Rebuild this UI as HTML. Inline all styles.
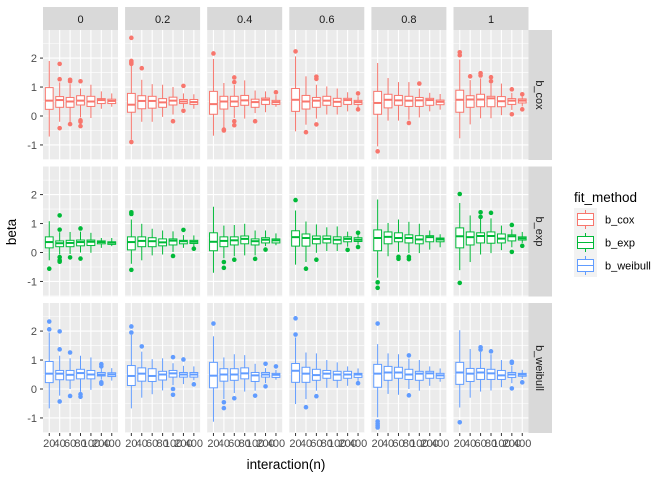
<!DOCTYPE html>
<html><head><meta charset="utf-8"><style>
body{margin:0;background:#fff;}
svg{display:block;font-family:"Liberation Sans",sans-serif;}
</style></head><body>
<svg id="chart" width="672" height="480"></svg>
<script>
const panelLabels = ["0","0.2","0.4","0.6","0.8","1"];
const methods = ["b_cox","b_exp","b_weibull"];
const methodColors = ["#F8766D","#00BA38","#619CFF"];
const categories = ["20","40","60","80","100","200","400"];
const yTicks = [-1,0,1,2];
// stats per panel: [lo,q1,med,q3,hi] for each of 7 categories
const coxStats = [
 [[-0.71,0.23,0.53,0.98,1.9],[-0.2,0.3,0.55,0.67,1.16],[-0.2,0.3,0.5,0.64,1.1],[-0.05,0.38,0.53,0.7,0.95],[-0.07,0.33,0.5,0.68,1.08],[0.25,0.43,0.55,0.6,0.85],[0.32,0.43,0.52,0.58,0.78]],
 [[-0.82,0.13,0.39,0.78,1.78],[-0.2,0.25,0.52,0.7,1.25],[-0.2,0.27,0.52,0.68,1.1],[-0.03,0.3,0.47,0.6,1.08],[0.05,0.38,0.53,0.65,1.0],[0.28,0.43,0.5,0.57,0.78],[0.25,0.4,0.48,0.57,0.75]],
 [[-0.68,0.06,0.41,0.85,1.97],[-0.41,0.24,0.5,0.68,1.14],[-0.07,0.33,0.5,0.68,1.07],[-0.09,0.37,0.54,0.71,1.23],[0.1,0.3,0.48,0.58,0.88],[0.13,0.4,0.56,0.62,0.85],[0.32,0.4,0.48,0.54,0.72]],
 [[-0.53,0.16,0.56,0.95,2.06],[-0.3,0.24,0.5,0.71,1.37],[-0.09,0.3,0.53,0.64,1.08],[0.05,0.37,0.53,0.68,1.02],[0.05,0.33,0.49,0.61,0.95],[0.16,0.4,0.55,0.61,0.82],[0.3,0.4,0.48,0.54,0.68]],
 [[-1.05,0.06,0.45,0.85,1.83],[-0.16,0.28,0.56,0.75,1.31],[-0.16,0.37,0.54,0.71,1.17],[-0.13,0.33,0.53,0.68,1.17],[-0.05,0.33,0.54,0.64,0.95],[0.16,0.37,0.55,0.61,0.8],[0.22,0.39,0.49,0.55,0.76]],
 [[-0.77,0.13,0.56,0.89,1.95],[-0.29,0.3,0.57,0.7,1.24],[-0.08,0.32,0.57,0.75,1.3],[-0.08,0.32,0.61,0.68,1.12],[0.03,0.32,0.51,0.67,1.12],[0.21,0.4,0.53,0.6,0.8],[0.33,0.45,0.53,0.59,0.67]]
];
const coxOutliers = [
 [[],[1.8,1.27,-0.42],[1.25,1.2,-0.28],[1.2,-0.15,-0.2,-0.35],[],[],[]],
 [[2.7,1.9,1.85,1.8,-0.9],[1.65],[],[],[-0.18],[1.04,0.18],[]],
 [[2.16],[-0.5,-0.47],[1.33,1.17,-0.18,-0.32],[],[-0.18],[],[0.82]],
 [[2.23],[-0.56],[1.36,1.28,-0.29],[],[],[],[0.78,0.23]],
 [[-1.22],[],[],[-0.24],[1.12],[],[]],
 [[2.2,2.1],[1.37],[1.48,1.4],[1.34,1.2],[],[0.92,0.06],[0.75,0.23]]
];
const expStats = [
 [[-0.27,0.16,0.36,0.54,1.08],[-0.07,0.2,0.32,0.4,0.7],[-0.05,0.2,0.33,0.42,0.71],[0.0,0.23,0.36,0.43,0.72],[-0.01,0.24,0.37,0.43,0.68],[0.16,0.3,0.36,0.4,0.5],[0.22,0.28,0.34,0.37,0.5]],
 [[-0.39,0.09,0.36,0.54,1.14],[-0.27,0.2,0.4,0.54,0.99],[-0.1,0.2,0.39,0.51,0.82],[-0.07,0.23,0.35,0.47,0.76],[0.02,0.26,0.41,0.47,0.73],[0.16,0.3,0.39,0.42,0.6],[0.2,0.31,0.37,0.42,0.59]],
 [[-0.7,0.06,0.37,0.68,1.58],[-0.2,0.2,0.4,0.54,0.93],[-0.13,0.26,0.42,0.54,0.95],[-0.1,0.3,0.47,0.57,0.99],[-0.1,0.26,0.39,0.47,0.76],[0.22,0.33,0.44,0.51,0.76],[0.25,0.33,0.42,0.47,0.66]],
 [[-0.42,0.22,0.53,0.75,1.45],[-0.33,0.22,0.5,0.64,1.07],[-0.01,0.3,0.47,0.57,0.97],[0.05,0.33,0.47,0.57,0.87],[0.05,0.3,0.44,0.54,0.9],[0.2,0.37,0.47,0.54,0.72],[0.28,0.38,0.44,0.51,0.6]],
 [[-0.87,0.06,0.5,0.78,1.83],[-0.13,0.3,0.54,0.71,1.02],[0.02,0.37,0.5,0.68,1.14],[-0.02,0.33,0.5,0.61,1.06],[-0.02,0.3,0.45,0.58,0.99],[0.1,0.37,0.53,0.58,0.76],[0.18,0.37,0.45,0.5,0.63]],
 [[-0.61,0.16,0.56,0.85,1.71],[-0.33,0.26,0.53,0.71,1.28],[-0.07,0.33,0.57,0.68,1.2],[-0.02,0.32,0.57,0.71,1.18],[0.08,0.33,0.48,0.64,0.93],[0.18,0.4,0.56,0.61,0.8],[0.33,0.43,0.49,0.54,0.71]]
];
const expOutliers = [
 [[-0.56],[1.28,0.79,-0.16,-0.27,-0.32],[-0.17],[0.83,-0.21],[],[],[]],
 [[1.39,1.33,-0.6],[],[],[],[-0.12],[0.78],[0.13]],
 [[],[-0.33,-0.53],[-0.25],[],[-0.22],[0.1],[]],
 [[1.81],[-0.56],[-0.25],[],[],[0.09],[0.68,0.19]],
 [[-1.03,-1.22],[],[-0.15,-0.22],[-0.15,-0.23],[],[],[]],
 [[2.02,-1.05],[],[1.39,1.23],[1.37],[],[0.95,0.02],[0.23]]
];
const weibullStats = [
 [[-0.67,0.22,0.53,0.95,1.95],[-0.23,0.32,0.53,0.64,1.15],[0.0,0.31,0.49,0.64,1.06],[-0.1,0.35,0.55,0.68,1.15],[-0.03,0.35,0.5,0.64,1.09],[0.32,0.45,0.5,0.57,0.72],[0.29,0.43,0.5,0.56,0.72]],
 [[-0.67,0.12,0.45,0.81,1.87],[-0.3,0.27,0.53,0.73,1.29],[-0.18,0.26,0.45,0.7,1.03],[-0.05,0.31,0.5,0.61,1.06],[0.13,0.41,0.54,0.64,0.89],[0.17,0.41,0.5,0.57,0.8],[0.3,0.41,0.5,0.57,0.78]],
 [[-1.13,0.04,0.46,0.92,1.82],[-0.35,0.27,0.5,0.7,1.09],[-0.14,0.3,0.5,0.7,1.2],[-0.09,0.35,0.54,0.73,1.17],[-0.06,0.26,0.47,0.57,0.87],[0.2,0.41,0.5,0.57,0.72],[0.32,0.4,0.49,0.54,0.66]],
 [[-0.52,0.23,0.63,0.88,1.78],[-0.35,0.23,0.53,0.75,1.26],[-0.06,0.3,0.48,0.68,1.23],[0.04,0.37,0.53,0.64,1.0],[0.04,0.3,0.5,0.61,0.92],[0.11,0.37,0.5,0.61,0.78],[0.28,0.4,0.5,0.54,0.71]],
 [[-0.98,0.06,0.53,0.85,1.55],[-0.17,0.3,0.57,0.78,1.23],[-0.2,0.37,0.57,0.75,1.2],[0.0,0.33,0.5,0.68,1.05],[-0.06,0.3,0.53,0.61,1.0],[0.11,0.37,0.54,0.61,0.78],[0.25,0.37,0.47,0.54,0.71]],
 [[-0.64,0.16,0.57,0.92,2.03],[-0.3,0.26,0.53,0.71,1.38],[-0.09,0.33,0.57,0.71,1.28],[-0.05,0.33,0.54,0.68,1.2],[0.06,0.33,0.47,0.64,1.0],[0.2,0.4,0.5,0.57,0.8],[0.35,0.44,0.5,0.54,0.66]]
];
const weibullOutliers = [
 [[2.33,2.06],[1.99,1.37,-0.43],[1.26,-0.24],[-0.18,-0.27],[],[0.86,0.78,0.23,0.18],[]],
 [[2.16,1.95],[1.47],[],[],[1.1,0.0,-0.2],[1.02],[0.16]],
 [[2.26],[-0.46,-0.66],[-0.32],[],[-0.23],[0.87,0.09],[0.78]],
 [[2.44,1.88],[-0.63],[-0.25],[],[],[],[0.2]],
 [[2.26,-1.12,-1.2,-1.27,-1.33],[],[],[1.16,-0.22],[],[],[]],
 [[-1.15],[],[1.44,1.36],[1.3],[],[0.94,0.9,0.02],[0.23]]
];
const allStats = [coxStats, expStats, weibullStats];
const allOutliers = [coxOutliers, expOutliers, weibullOutliers];

const NS = "http://www.w3.org/2000/svg";
const svg = document.getElementById("chart");
function mk(tag, attrs, parent){
  const e = document.createElementNS(NS, tag);
  for (const k in attrs) e.setAttribute(k, attrs[k]);
  (parent||svg).appendChild(e);
  return e;
}
const panelX0 = 43, panelW = 75, panelGap = 7.1;
const rowTops = [30, 166.5, 303], panelH = 130;
const yMin = -1.52, yMax = 2.97;
function xScale(p, i){ const step = panelW/(categories.length-1+1.2); return panelX0 + p*(panelW+panelGap) + step*(0.6+i); }
function yScale(r, v){ return rowTops[r] + panelH*(yMax - v)/(yMax - yMin); }
const step = panelW/(categories.length-1+1.2);
const boxW = step*0.75;

// strips top
panelLabels.forEach((lab,p)=>{
  const x = panelX0 + p*(panelW+panelGap);
  const g = mk("g",{});
  
  
  mk("rect",{x:x,y:7,width:panelW,height:23,fill:"#D9D9D9"},g);
  const t = mk("text",{x:x+panelW/2,y:23,"text-anchor":"middle","font-size":"11","fill":"#1A1A1A"},g);
  t.textContent = lab;
});
// right strips
methods.forEach((m,r)=>{
  const g = mk("g",{});
  
  
  mk("rect",{x:528,y:rowTops[r],width:24,height:panelH,fill:"#D9D9D9"},g);
  const cx=536, cy=rowTops[r]+panelH/2;
  const t = mk("text",{x:cx,y:cy,"text-anchor":"middle","font-size":"11","fill":"#1A1A1A",transform:`rotate(90 ${cx} ${cy})`},g);
  t.textContent = m;
});

for (let r=0;r<3;r++){
  for (let p=0;p<6;p++){
    const px = panelX0 + p*(panelW+panelGap);
    const g = mk("g",{});
    
    
    mk("rect",{x:px,y:rowTops[r],width:panelW,height:panelH,fill:"#EBEBEB"},g);
    [-1.5,-0.5,0.5,1.5,2.5].forEach(v=>{ const y=yScale(r,v); if(y>=rowTops[r]&&y<=rowTops[r]+panelH) mk("line",{x1:px,x2:px+panelW,y1:y,y2:y,stroke:"#fff","stroke-width":0.55},g);});
    yTicks.forEach(v=>{ const y=yScale(r,v); mk("line",{x1:px,x2:px+panelW,y1:y,y2:y,stroke:"#fff","stroke-width":1.1},g);});
    categories.forEach((c,i)=>{ const x=xScale(p,i); mk("line",{x1:x,x2:x,y1:rowTops[r],y2:rowTops[r]+panelH,stroke:"#fff","stroke-width":1.1},g);});
    const col = methodColors[r];
    allStats[r][p].forEach((s,i)=>{
      const x = xScale(p,i);
      const bg = mk("g",{},g);
      
      
      mk("line",{x1:x,x2:x,y1:yScale(r,s[0]),y2:yScale(r,s[1]),stroke:col,"stroke-width":1},bg);
      mk("line",{x1:x,x2:x,y1:yScale(r,s[3]),y2:yScale(r,s[4]),stroke:col,"stroke-width":1},bg);
      mk("rect",{x:x-boxW/2,y:yScale(r,s[3]),width:boxW,height:yScale(r,s[1])-yScale(r,s[3]),fill:"#fff",stroke:col,"stroke-width":1},bg);
      mk("line",{x1:x-boxW/2,x2:x+boxW/2,y1:yScale(r,s[2]),y2:yScale(r,s[2]),stroke:col,"stroke-width":2},bg);
      allOutliers[r][p][i].forEach(o=>{
        const c = mk("circle",{cx:x,cy:yScale(r,o),r:2.3,fill:col},bg);
        
        
      });
    });
  }
  // y axis
  const ya = mk("g",{});
  
  
  yTicks.forEach(v=>{
    const y=yScale(r,v);
    mk("line",{x1:40,x2:43,y1:y,y2:y,stroke:"#333","stroke-width":1},ya);
    const t=mk("text",{x:37,y:y+4,"text-anchor":"end","font-size":"11",fill:"#4D4D4D"},ya);
    t.textContent = v;
  });
}
// x axis
for (let p=0;p<6;p++){
  const xa = mk("g",{});
  
  
  categories.forEach((c,i)=>{
    const x=xScale(p,i), yb=rowTops[2]+panelH;
    mk("line",{x1:x,x2:x,y1:yb,y2:yb+3,stroke:"#333","stroke-width":1},xa);
    const t=mk("text",{x:x,y:yb+14,"text-anchor":"middle","font-size":"11",fill:"#4D4D4D"},xa);
    t.textContent=c;
  });
}
const xt = mk("text",{x:286,y:469,"text-anchor":"middle","font-size":"13.5",fill:"#000"});


xt.textContent="interaction(n)";
const ytl = mk("text",{x:16,y:232,"text-anchor":"middle","font-size":"13.5",fill:"#000",transform:"rotate(-90 16 232)"});


ytl.textContent="beta";
// legend
const lg = mk("g",{});


const lt = mk("text",{x:574,y:202,"font-size":"13.5",fill:"#000"},lg);
lt.textContent="fit_method";
methods.forEach((m,k)=>{
  const y0 = 208 + k*23;
  const e = mk("g",{},lg);
  
  
  mk("rect",{x:574,y:y0,width:23,height:23,fill:"#F2F2F2"},e);
  mk("line",{x1:585.5,x2:585.5,y1:y0+2,y2:y0+21,stroke:methodColors[k],"stroke-width":1},e);
  mk("rect",{x:577.5,y:y0+5.5,width:16,height:12,fill:"#fff",stroke:methodColors[k],"stroke-width":1},e);
  mk("line",{x1:577.5,x2:593.5,y1:y0+11.5,y2:y0+11.5,stroke:methodColors[k],"stroke-width":1},e);
  const t = mk("text",{x:605,y:y0+15.5,"font-size":"11",fill:"#000"},e);
  t.textContent = m;
});
</script>
</body></html>
